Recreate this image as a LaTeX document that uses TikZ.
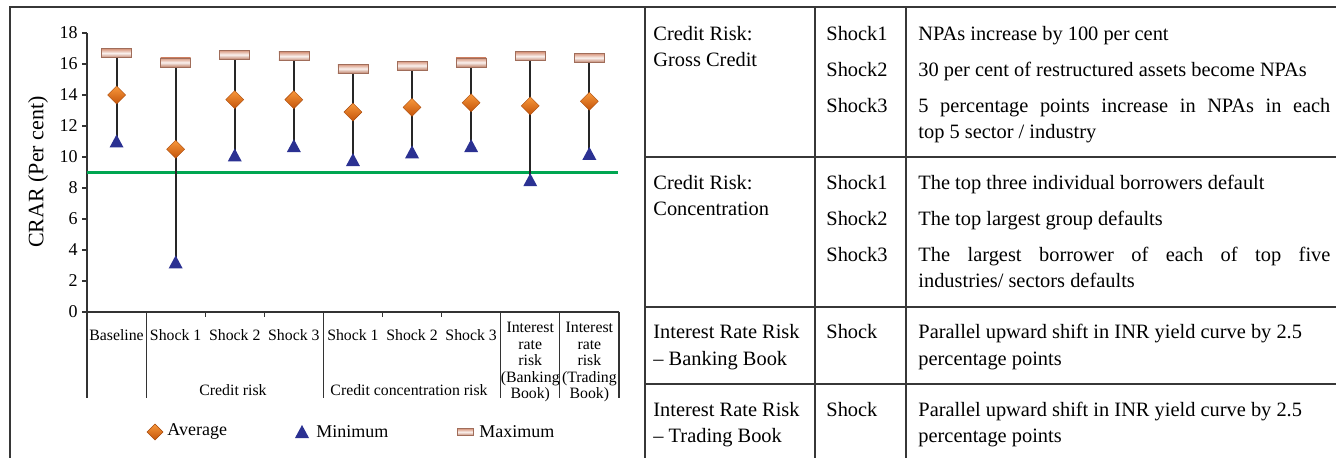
\documentclass[tikz,border=0pt]{standalone}
\usepackage{fontspec}
\setmainfont{Liberation Serif}
\definecolor{navy}{RGB}{43,49,146}
\definecolor{crargreen}{RGB}{0,166,81}
\definecolor{framegray}{RGB}{55,55,55}
\definecolor{maxdark}{RGB}{214,146,120}
\definecolor{avgtop}{RGB}{248,152,60}
\definecolor{avgbot}{RGB}{196,84,10}

\begin{document}
\begin{tikzpicture}[x=0.5pt,y=-0.5pt,
  chart/.style={font=\fontsize{7.9}{8.25}\selectfont, inner sep=0pt},
  big/.style={font=\fontsize{9}{10}\selectfont},
  tab/.style={font=\fontsize{10.2}{13}\selectfont, anchor=base west, inner sep=0pt},
  whisker/.style={line width=1pt, black!85},
  avgmark/.style={top color=avgtop, bottom color=avgbot, draw=avgbot!85!black, line width=0.2pt},
  minmark/.style={fill=navy},
  maxmark/.style={top color=maxdark, bottom color=maxdark!90!black, middle color=maxdark!12!white, draw=maxdark!75!black, line width=0.3pt},
  sep/.style={line width=0.6pt, black!80},
  rule/.style={line width=1pt, framegray}]

\useasboundingbox (0,0) rectangle (1336,458);

\def\yz{312}    % y of CRAR = 0
\def\yu{15.5}   % pixels per per cent
\def\cw{59.1}   % category width
\def\xo{87}     % x of the y axis

% frames
\draw[rule] (1336,7) -- (10,7) -- (10,458);
\draw[rule] (645,7) -- (645,458);

% axes
\draw[sep] (\xo,33) -- (\xo,\yz) -- (\xo+9*\cw,\yz);
\foreach \v in {0,2,...,18} {
  \pgfmathsetmacro{\yy}{\yz-\v*\yu}
  \draw[sep] (\xo-5,\yy) -- (\xo,\yy);
  \node[chart, big, anchor=east] (tick\v) at (\xo-9,\yy) {\v};
}
\node[rotate=90, font=\fontsize{11}{12}\selectfont] (ylab) at (38,172) {CRAR (Per cent)};

% category ticks and separators
\foreach \k in {0,...,9}
  \draw[sep] (\xo+\k*\cw,\yz) -- (\xo+\k*\cw,\yz+5);
\foreach \k in {0,1,4,7,8,9}
  \draw[sep] (\xo+\k*\cw,\yz) -- (\xo+\k*\cw,398);

% category labels
\foreach \k/\lbl in {0/Baseline,1/Shock 1,2/Shock 2,3/Shock 3,4/Shock 1,5/Shock 2,6/Shock 3}
  \node[chart] (cat\k) at (\xo+\k*\cw+0.5*\cw,335) {\lbl};
\foreach \k/\lbl in {7/Banking,8/Trading}
  \node[chart, align=center, anchor=north] (cat\k) at (\xo+\k*\cw+0.5*\cw,322)
    {Interest\\rate\\risk\\(\lbl\\Book)};
\node[chart] (grpcr) at (233,390) {Credit risk};
\node[chart] (grpcc) at (409,390) {Credit concentration risk};

% regulatory minimum
\draw[crargreen, line width=1.2pt] (\xo,\yz-9*\yu) -- (\xo+9*\cw-1,\yz-9*\yu);

% i / maximum / average / minimum
\foreach \i/\mx/\av/\mn in {
  0/16.7/14.0/11.0,
  1/16.1/10.5/3.2,
  2/16.6/13.7/10.1,
  3/16.5/13.7/10.7,
  4/15.7/12.9/9.8,
  5/15.9/13.2/10.3,
  6/16.1/13.5/10.7,
  7/16.5/13.3/8.5,
  8/16.4/13.6/10.2}
{
  \pgfmathsetmacro{\xx}{\xo+(\i+0.5)*\cw}
  \pgfmathsetmacro{\ymx}{\yz-\mx*\yu}
  \pgfmathsetmacro{\yav}{\yz-\av*\yu}
  \pgfmathsetmacro{\ymn}{\yz-\mn*\yu}
  \coordinate (max\i) at (\xx,\ymx);
  \coordinate (min\i) at (\xx,\ymn);
  \draw[whisker] (max\i) -- (min\i);
  \shade[maxmark] (\xx-15,\ymx-4.5) rectangle (\xx+15,\ymx+4.5);
  \shade[avgmark] (\xx,\yav-9) -- (\xx+9,\yav) -- (\xx,\yav+9) -- (\xx-9,\yav) -- cycle;
  \fill[minmark] (\xx-7,\ymn+6) -- (\xx+7,\ymn+6) -- (\xx,\ymn-7) -- cycle;
}

% legend
\shade[avgmark] (155,424) -- (163,432) -- (155,440) -- (147,432) -- cycle;
\node[chart, big, anchor=west] (lavg) at (167,432) {Average};
\fill[minmark] (295,438) -- (309,438) -- (302,425) -- cycle;
\node[chart, big, anchor=west] (lmin) at (316,432) {Minimum};
\shade[maxmark] (457,428.5) rectangle (473,435.5);
\node[chart, big, anchor=west] (lmax) at (479,432) {Maximum};

% table rules
\foreach \yy in {157,307,384}
  \draw[rule, line width=0.8pt] (645,\yy) -- (1336,\yy);
\foreach \xx in {815,906}
  \draw[rule, line width=0.8pt] (\xx,7) -- (\xx,458);

% table text
\foreach \nm/\xx/\yy/\txt in {
  ra1/653/41/{Credit Risk:},
  ra2/653/67/{Gross Credit},
  sa1/826/41/{Shock1},
  sa2/826/77/{Shock2},
  sa3/826/113/{Shock3},
  da1/918/41/{NPAs increase by 100 per cent},
  da2/918/77/{30 per cent of restructured assets become NPAs},
  da3/918/113/{\makebox[206pt][s]{5 percentage points increase in NPAs in each}},
  da4/918/139/{top 5 sector / industry},
  rb1/653/190/{Credit Risk:},
  rb2/653/216/{Concentration},
  sb1/826/190/{Shock1},
  sb2/826/226/{Shock2},
  sb3/826/262/{Shock3},
  db1/918/190/{The top three individual borrowers default},
  db2/918/226/{The top largest group defaults},
  db3/918/262/{\makebox[206pt][s]{The largest borrower of each of top five}},
  db4/918/288/{industries/ sectors defaults},
  rc1/653/339/{Interest Rate Risk},
  rc2/653/365/{-- Banking Book},
  sc1/826/339/{Shock},
  dc1/918/339/{Parallel upward shift in INR yield curve by 2.5},
  dc2/918/365/{percentage points},
  rd1/653/416/{Interest Rate Risk},
  rd2/653/442/{-- Trading Book},
  sd1/826/416/{Shock},
  dd1/918/416/{Parallel upward shift in INR yield curve by 2.5},
  dd2/918/442/{percentage points}}
  \node[tab] (\nm) at (\xx,\yy) {\txt};

\end{tikzpicture}
\end{document}
